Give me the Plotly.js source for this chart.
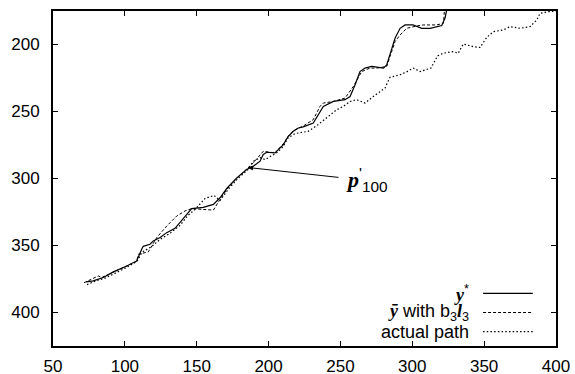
<!DOCTYPE html>
<html>
<head>
<meta charset="utf-8">
<script src="https://cdn.plot.ly/plotly-3.0.1.min.js"></script>
<style>html,body{margin:0;padding:0;background:#fff;}#chart{width:575px;height:374px;}</style>
</head>
<body>
<div id="chart"></div>
<script>
// y* (solid)
var starX = [73.0, 78.0, 85.0, 92.0, 101.3, 108.2, 111.7, 112.8, 117.5, 119.8, 124.5, 129.1, 134.9, 138.4, 144.2, 146.5, 154.6, 161.6, 166.2, 170.9, 177.8, 184.8, 189.4, 194.1, 196.3, 198.7, 204.5, 210.3, 213.7, 217.2, 220.7, 224.2, 231.1, 234.6, 238.1, 245.1, 253.2, 256.7, 260.2, 263.6, 267.1, 271.8, 275.3, 279.9, 282.2, 284.5, 288.0, 291.5, 295.0, 300.5, 306.6, 312.4, 320.5, 322.8, 323.8];
var starY = [377.2, 376.4, 373.9, 369.7, 365.3, 361.5, 352.8, 350.6, 349.1, 346.6, 344.1, 340.4, 337.2, 333.0, 325.5, 322.5, 321.6, 319.3, 314.4, 307.4, 299.5, 293.3, 290.8, 287.1, 282.1, 280.4, 280.9, 274.7, 268.5, 264.8, 262.3, 261.5, 258.6, 252.4, 246.2, 242.5, 241.2, 238.8, 230.1, 220.2, 217.6, 216.4, 216.9, 217.6, 215.2, 206.5, 195.3, 187.9, 185.4, 185.4, 187.9, 187.9, 185.8, 180.2, 175.0];
// y-bar with b3l3 (dashed)
var barX = [71.6, 76.9, 81.5, 83.9, 92.0, 101.3, 108.2, 109.4, 116.3, 119.8, 122.2, 129.1, 136.1, 141.9, 146.5, 154.6, 161.6, 166.2, 170.9, 177.8, 184.8, 189.4, 196.3, 204.5, 210.3, 213.7, 217.2, 224.2, 231.1, 235.8, 238.1, 245.1, 253.2, 259.0, 264.8, 270.6, 275.3, 282.2, 284.5, 288.0, 291.5, 296.1, 303.1, 307.7, 317.0, 321.6, 322.1, 322.3];
var barY = [377.8, 375.1, 372.7, 373.9, 370.0, 365.5, 361.8, 356.5, 354.8, 348.4, 344.1, 335.5, 328.0, 324.2, 322.5, 323.1, 323.6, 315.6, 308.2, 300.0, 293.3, 288.3, 279.7, 280.9, 274.0, 268.5, 264.3, 260.8, 256.1, 246.2, 243.7, 242.5, 240.0, 231.3, 220.2, 217.6, 217.6, 216.4, 209.0, 197.8, 192.9, 187.9, 186.2, 185.4, 185.4, 184.2, 179.2, 175.0];
// actual path (dotted)
var pathX = [73.7, 79.2, 86.2, 93.1, 101.5, 108.5, 111.9, 118.9, 124.5, 131.4, 138.4, 143.9, 148.8, 155.8, 162.0, 166.2, 171.8, 178.0, 185.0, 189.2, 194.1, 197.5, 201.0, 205.9, 210.1, 213.5, 218.4, 221.9, 227.5, 233.5, 240.5, 247.4, 252.0, 256.7, 261.3, 267.1, 272.9, 277.6, 281.0, 284.5, 291.5, 296.1, 300.7, 305.4, 313.0, 317.6, 321.6, 328.6, 332.0, 335.5, 342.5, 347.1, 351.8, 356.4, 363.4, 368.0, 375.0, 381.9, 386.6, 388.9, 394.7, 400.0];
var pathY = [379.2, 376.6, 374.4, 370.7, 366.2, 361.8, 355.1, 350.6, 345.4, 340.9, 335.0, 327.5, 323.1, 314.9, 312.6, 316.4, 308.2, 300.7, 294.0, 287.4, 284.4, 285.9, 283.6, 280.7, 276.2, 269.7, 266.5, 266.0, 264.8, 260.6, 254.6, 248.7, 246.2, 242.5, 241.2, 243.7, 238.8, 235.3, 232.5, 224.5, 222.6, 220.4, 217.6, 220.2, 217.6, 208.5, 206.5, 205.3, 206.5, 199.6, 201.6, 202.2, 194.7, 190.4, 189.1, 186.7, 187.9, 186.7, 181.7, 176.7, 175.5, 175.0];

var xTicks = [50, 100, 150, 200, 250, 300, 350, 400];
var yTicks = [200, 250, 300, 350, 400];
var legendLabels = [
  '<span style="font-family:\'Liberation Serif\'"><b><i>y</i></b></span><sup>*</sup>',
  '<span style="font-family:\'Liberation Serif\'"><b><i>ȳ</i></b></span> with b<sub>3</sub><span style="font-family:\'Liberation Serif\'"><b><i>l</i></b></span><sub>3</sub>',
  'actual path'
];
var arrowHead = [185.7, 291.8];
var arrowTail = [249.7, 299.3];

var dashes = ['solid', '3px,2px', '1.5px,2.2px'];
var widths = [1.2, 1, 1.2];

var traces = [
  {x: starX, y: starY, mode: 'lines', line: {color: '#000', width: widths[0]}, showlegend: false},
  {x: barX, y: barY, mode: 'lines', line: {color: '#000', width: widths[1], dash: dashes[1]}, showlegend: false},
  {x: pathX, y: pathY, mode: 'lines', line: {color: '#000', width: widths[2], dash: dashes[2]}, showlegend: false}
];

var legY = [0.157, 0.100, 0.043];
var shapes = [], annotations = [];
for (var i = 0; i < 3; i++) {
  shapes.push({type: 'line', xref: 'paper', yref: 'paper', x0: 0.855, x1: 0.954, y0: legY[i], y1: legY[i],
    line: {color: '#000', width: widths[i], dash: dashes[i]}});
  annotations.push({xref: 'paper', yref: 'paper', x: 0.832, y: legY[i], xanchor: 'right', yanchor: 'middle',
    text: legendLabels[i], showarrow: false, font: {family: 'Liberation Sans, Arial', size: 18, color: '#000'}});
}
annotations.push({x: arrowHead[0], y: arrowHead[1], ax: arrowTail[0], ay: arrowTail[1], axref: 'x', ayref: 'y',
  text: '', showarrow: true, arrowhead: 2, arrowsize: 1, arrowwidth: 1, arrowcolor: '#000'});
annotations.push({x: arrowTail[0] + 2.5, y: arrowTail[1] + 1.5, xanchor: 'left', yanchor: 'middle', showarrow: false,
  text: '<span style="font-family:\'Liberation Serif\'"><b><i>p</i></b></span><sup>\'</sup><sub>100</sub>',
  font: {family: 'Liberation Sans, Arial', size: 22, color: '#000'}});

var axisCommon = {showgrid: false, zeroline: false, showline: true, linecolor: '#000', linewidth: 2, mirror: 'ticks',
  ticks: 'inside', ticklen: 5, tickwidth: 1, tickcolor: '#000',
  tickfont: {family: 'Liberation Sans, Arial', size: 17, color: '#000'}};

var layout = {
  width: 575, height: 374,
  margin: {l: 53, r: 19, t: 11, b: 28},
  paper_bgcolor: '#fff', plot_bgcolor: '#fff',
  showlegend: false,
  xaxis: Object.assign({}, axisCommon, {range: [50, 400], tickmode: 'array', tickvals: xTicks, ticktext: xTicks.map(String), ticklabelstandoff: 4}),
  yaxis: Object.assign({}, axisCommon, {range: [425, 175], tickmode: 'array', tickvals: yTicks, ticktext: yTicks.map(String), ticklabelstandoff: 8}),
  shapes: shapes,
  annotations: annotations
};

Plotly.newPlot('chart', traces, layout, {staticPlot: true});
</script>
</body>
</html>
